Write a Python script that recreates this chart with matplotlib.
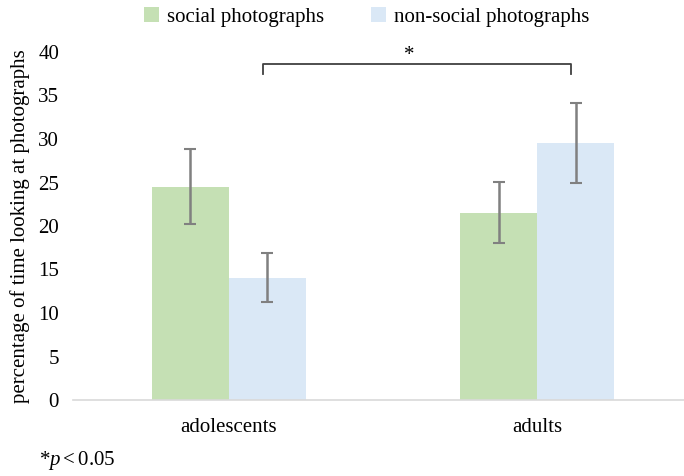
import numpy as np
import matplotlib.pyplot as plt

groups = ["adolescents", "adults"]
social = [24.5, 21.5]
social_err_lo = [4.3, 3.5]
social_err_hi = [4.35, 3.6]
nonsocial = [14.0, 29.5]
nonsocial_err_lo = [2.7, 4.6]
nonsocial_err_hi = [2.9, 4.6]
yticks = [0, 5, 10, 15, 20, 25, 30, 35, 40]

plt.rcParams['font.family'] = ['Liberation Serif', 'DejaVu Serif']
plt.rcParams['mathtext.fontset'] = 'custom'
plt.rcParams['mathtext.rm'] = 'Liberation Serif'
plt.rcParams['mathtext.it'] = 'Liberation Serif:italic'
fs = 15

fig = plt.figure(figsize=(6.84, 4.76), dpi=100)
ax = fig.add_axes([73 / 684, 76 / 476, 611 / 684, 348 / 476])

x = np.arange(len(groups))
w = 0.25
err_kw = dict(ecolor="#808080", elinewidth=1.8, capsize=4, capthick=1.5)
ax.bar(x - w / 2, social, w, color="#c5e0b4", label="social photographs",
       yerr=[social_err_lo, social_err_hi], error_kw=err_kw)
ax.bar(x + w / 2, nonsocial, w, color="#dae8f6", label="non-social photographs",
       yerr=[nonsocial_err_lo, nonsocial_err_hi], error_kw=err_kw)

ax.set_xlim(-0.506, 1.477)
ax.set_ylim(0, 40)
ax.set_yticks(yticks)
ax.set_xticks(x)
ax.set_xticklabels(groups)
ax.tick_params(length=0, labelsize=fs)
ax.tick_params(axis="x", pad=13)
ax.tick_params(axis="y", pad=10)
for s in ["top", "right", "left"]:
    ax.spines[s].set_visible(False)
ax.spines["bottom"].set_color("#d9d9d9")
ax.spines["bottom"].set_linewidth(1.2)
ax.set_ylabel("percentage of time looking at photographs", fontsize=fs, labelpad=6)

# significance bracket
bx0, bx1, by = 0.11, 1.11, 38.6
ax.plot([bx0, bx0, bx1, bx1], [by - 1.1, by, by, by - 1.1], color="#404040", lw=1.3,
        clip_on=False)
ax.text(0.585, by - 0.15, "*", ha="center", va="bottom", fontsize=fs)

fig.legend(loc="upper center", bbox_to_anchor=(0.536, 1.002), ncol=2, frameon=False,
           fontsize=fs, handlelength=0.7, handleheight=0.7, columnspacing=2.25,
           handletextpad=0.4, borderaxespad=0.0)

fig.text(39 / 684, 1 - 460 / 476, "*$p < 0.05$", fontsize=fs, ha="left", va="center")

fig.savefig("out.png", dpi=100)
